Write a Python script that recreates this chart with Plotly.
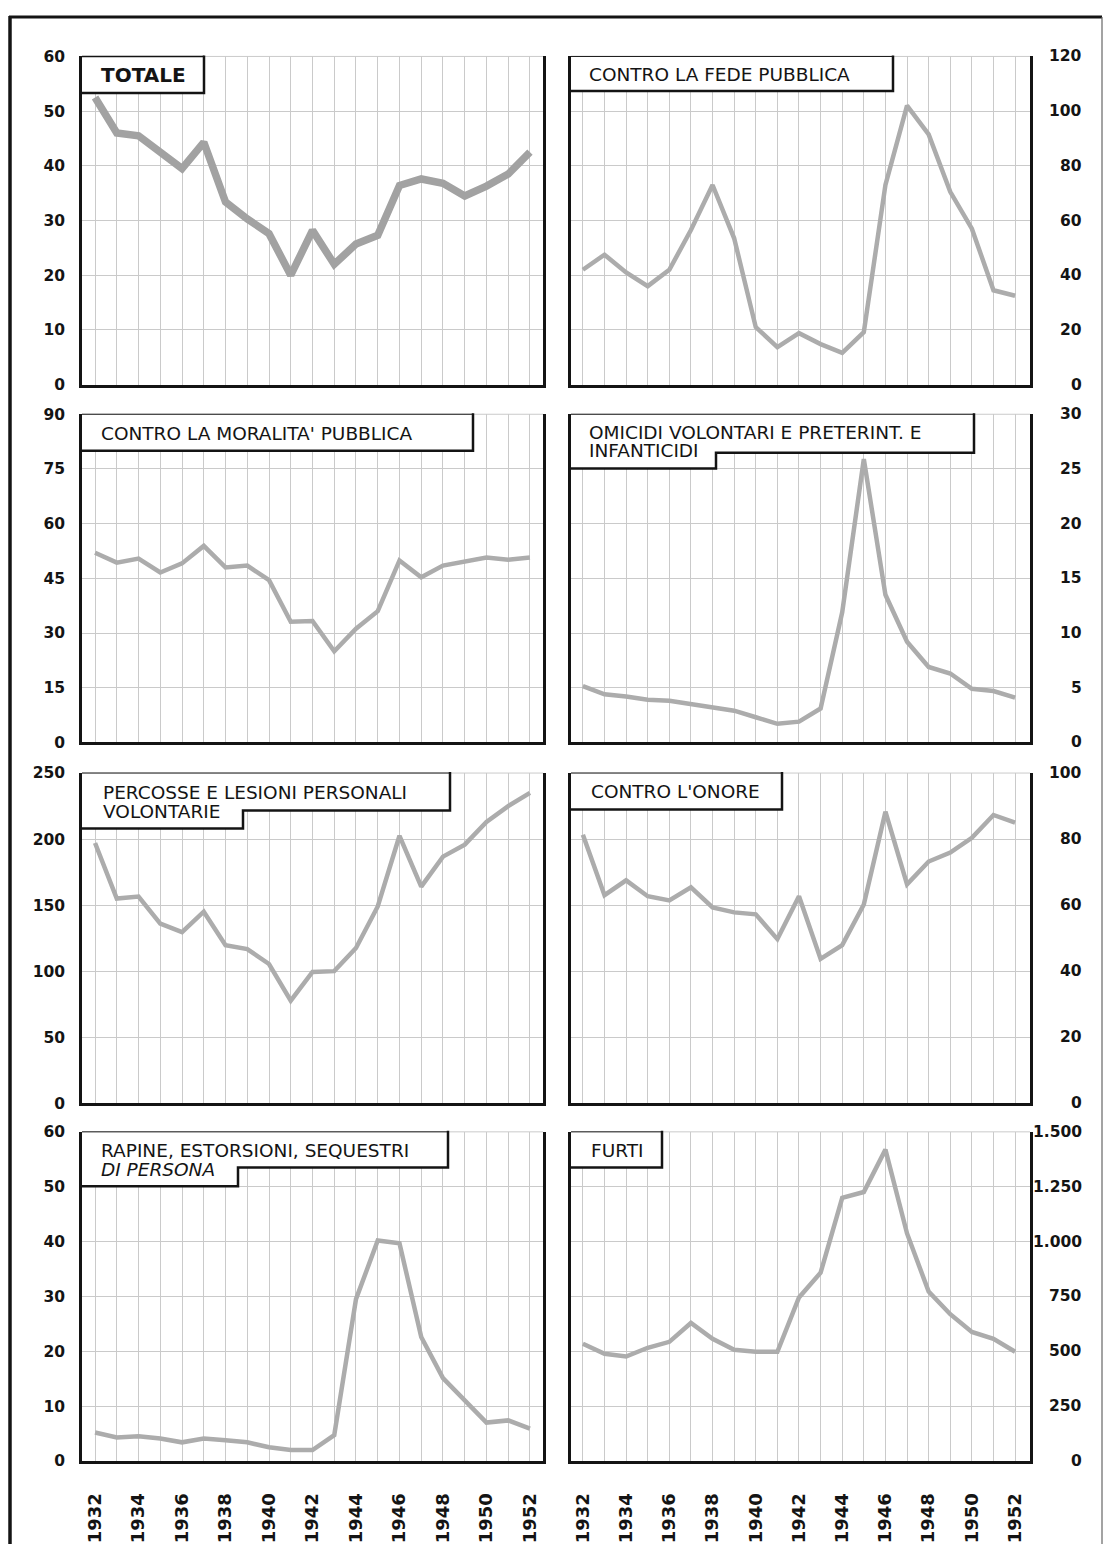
import plotly.graph_objects as go

# ---------------- data ----------------
years = list(range(1932, 1953))

totale = [52.5, 46, 45.5, 42.5, 39.5, 44.3, 33.4, 30.3, 27.6, 20, 28.2, 22, 25.7, 27.3, 36.4, 37.6, 36.8, 34.5, 36.3, 38.5, 42.5]
fede = [42, 47.5, 41, 36, 42, 56.5, 73, 53.5, 21, 13.7, 18.8, 14.8, 11.6, 19.2, 73, 102, 91.5, 70.5, 57, 34.5, 32.5]
moralita = [52, 49.3, 50.4, 46.6, 49.1, 53.9, 48, 48.5, 44.5, 33.1, 33.3, 25, 31.2, 36, 49.9, 45.3, 48.5, 49.6, 50.7, 50.1, 50.7]
omicidi = [5.15, 4.4, 4.2, 3.9, 3.8, 3.5, 3.3, 2.9, 2.3, 1.7, 1.9, 3.1, 11.9, 25.9, 13.5, 9.2, 6.9, 6.3, 4.9, 4.7, 4.1]
percosse = [197, 155, 156.5, 136, 129.5, 145, 119.7, 116.7, 105.4, 77.6, 99.4, 100, 117.5, 149, 202.5, 164, 186.7, 195.8, 213, 225, 235]
onore = [81.3, 63, 67.5, 62.7, 61.4, 65.4, 59.3, 57.8, 57.2, 49.7, 62.7, 43.7, 47.9, 60.2, 88.3, 66.3, 73.2, 75.9, 80.4, 87.3, 85]
rapine = [5.2, 4.3, 4.5, 4.1, 3.4, 4.1, 3.8, 3.4, 2.5, 2, 2, 4.7, 29.5, 40.2, 39.7, 22.6, 15.1, 11, 7, 7.4, 5.9]
furti = [534, 489, 476, 516, 543, 629, 557, 507, 498, 498, 745, 858, 1199, 1226, 1419, 1037, 772, 669, 588, 557, 498]

ticks_totale = [0, 10, 20, 30, 40, 50, 60]
ticks_fede = [0, 20, 40, 60, 80, 100, 120]
ticks_moralita = [0, 15, 30, 45, 60, 75, 90]
ticks_omicidi = [0, 5, 10, 15, 20, 25, 30]
ticks_percosse = [0, 50, 100, 150, 200, 250]
ticks_onore = [0, 20, 40, 60, 80, 100]
ticks_rapine = [0, 10, 20, 30, 40, 50, 60]
ticks_furti = [0, 250, 500, 750, 1000, 1250, 1500]
ticktext_furti = ["0", "250", "500", "750", "1.000", "1.250", "1.500"]

title_lines = {
    1: ["TOTALE"],
    2: ["CONTRO LA FEDE PUBBLICA"],
    3: ["CONTRO LA MORALITA' PUBBLICA"],
    4: ["OMICIDI VOLONTARI E PRETERINT. E", "INFANTICIDI"],
    5: ["PERCOSSE E LESIONI PERSONALI", "VOLONTARIE"],
    6: ["CONTRO L'ONORE"],
    7: ["RAPINE, ESTORSIONI, SEQUESTRI", "DI PERSONA"],
    8: ["FURTI"],
}

# ---------------- layout helpers ----------------
W, H = 1105, 1555
def px(x): return x / W
def py(y): return 1 - y / H

col_px = [(82, 543), (571, 1030)]
row_px = [(48, 380), (410, 742), (773, 1107), (1136, 1469)]
xranges = [[1931.4, 1952.6], [1931.45, 1952.69]]

GRID = "#cacaca"
LINE = "#acacac"
INK = "#141414"
FONT = "DejaVu Sans"

panels = [
    dict(s=totale, t=ticks_totale, tt=None, col=0, row=0, w=7.5, c="#a2a2a2"),
    dict(s=fede, t=ticks_fede, tt=None, col=1, row=0, w=4.5, c=LINE),
    dict(s=moralita, t=ticks_moralita, tt=None, col=0, row=1, w=4.5, c=LINE),
    dict(s=omicidi, t=ticks_omicidi, tt=None, col=1, row=1, w=4.5, c=LINE),
    dict(s=percosse, t=ticks_percosse, tt=None, col=0, row=2, w=4.5, c=LINE),
    dict(s=onore, t=ticks_onore, tt=None, col=1, row=2, w=4.5, c=LINE),
    dict(s=rapine, t=ticks_rapine, tt=None, col=0, row=3, w=4.5, c=LINE),
    dict(s=furti, t=ticks_furti, tt=ticktext_furti, col=1, row=3, w=4.5, c=LINE),
]

# title boxes: x0, top, x1, bottom1, step_x, bottom2 (pixels)
boxes = {
    1: (82, 48, 204, 85, None, None),
    2: (571, 48, 893, 83, None, None),
    3: (82, 410, 473, 447, None, None),
    4: (571, 410, 974, 449, 716, 465),
    5: (82, 773, 450, 811, 243, 829),
    6: (571, 773, 782, 810, None, None),
    7: (82, 1136, 448, 1172, 238, 1191),
    8: (571, 1136, 662, 1172, None, None),
}
text_pos = {
    1: (99, 67), 2: (587, 66), 3: (99, 429), 4: (587, 428),
    5: (101, 793), 6: (589, 792), 7: (99, 1155), 8: (589, 1155),
}

fig = go.Figure()
layout = dict(width=W, height=H, margin=dict(l=0, r=0, t=0, b=0),
              paper_bgcolor="white", plot_bgcolor="white", showlegend=False)
shapes, annotations = [], []

for k, p in enumerate(panels, start=1):
    c0, c1 = col_px[p["col"]]
    r0, r1 = row_px[p["row"]]
    xn = "xaxis" if k == 1 else f"xaxis{k}"
    yn = "yaxis" if k == 1 else f"yaxis{k}"
    xr = "x" if k == 1 else f"x{k}"
    yr = "y" if k == 1 else f"y{k}"
    ymax = p["t"][-1]
    bottom = p["row"] == 3
    layout[xn] = dict(
        domain=[px(c0), px(c1)], range=xranges[p["col"]], anchor=yr,
        tickmode="array", tickvals=years,
        ticktext=[str(y) if y % 2 == 0 else "" for y in years],
        showticklabels=bottom, tickangle=-90, ticks="",
        tickfont=dict(family=FONT, size=18, color=INK, weight="bold"),
        ticklabelstandoff=22,
        showgrid=True, gridcolor=GRID, gridwidth=1,
        showline=True, linecolor=INK, linewidth=3, mirror=False,
        zeroline=False, fixedrange=True,
    )
    left = p["col"] == 0
    ytext = p["tt"] if p["tt"] else [str(v) for v in p["t"]]
    layout[yn] = dict(
        domain=[py(r1), py(r0)], range=[0, ymax], anchor=xr,
        tickmode="array", tickvals=p["t"], ticktext=ytext,
        showticklabels=left, side="left", ticks="",
        tickfont=dict(family=FONT, size=15.5, color=INK, weight="bold"),
        ticklabelstandoff=11,
        showgrid=True, gridcolor=GRID, gridwidth=1,
        showline=True, linecolor=INK, linewidth=2.5, mirror=True,
        zeroline=False, fixedrange=True,
    )
    shapes.append(dict(type="line", xref="paper", yref="paper",
                       x0=px(c0), x1=px(c1), y0=py(r0), y1=py(r0),
                       line=dict(color=GRID, width=1), layer="below"))
    if not left:
        for v, t in zip(p["t"], ytext):
            annotations.append(dict(x=px(1084), xref="paper", y=v, yref=yr,
                                    text=t, showarrow=False, xanchor="right",
                                    yanchor="middle",
                                    font=dict(family=FONT, size=15.5, color=INK, weight="bold")))
    fig.add_trace(go.Scatter(x=years, y=p["s"], mode="lines", xaxis=xr, yaxis=yr,
                             line=dict(color=p["c"], width=p["w"]),
                             hoverinfo="skip"))

    x0, top, x1, b1, xs, b2 = boxes[k]
    if xs is None:
        fillp = f"M {px(x0)},{py(top)} L {px(x1)},{py(top)} L {px(x1)},{py(b1)} L {px(x0)},{py(b1)} Z"
        edge = f"M {px(x1)},{py(top - 1)} L {px(x1)},{py(b1)} L {px(x0)},{py(b1)}"
    else:
        fillp = (f"M {px(x0)},{py(top)} L {px(x1)},{py(top)} L {px(x1)},{py(b1)} "
                 f"L {px(xs)},{py(b1)} L {px(xs)},{py(b2)} L {px(x0)},{py(b2)} Z")
        edge = (f"M {px(x1)},{py(top - 1)} L {px(x1)},{py(b1)} L {px(xs)},{py(b1)} "
                f"L {px(xs)},{py(b2)} L {px(x0)},{py(b2)}")
    shapes.append(dict(type="path", path=fillp, xref="paper", yref="paper",
                       fillcolor="white", line=dict(width=0), layer="above"))
    shapes.append(dict(type="path", path=edge, xref="paper", yref="paper",
                       line=dict(color=INK, width=2.5), layer="above"))
    shapes.append(dict(type="line", xref="paper", yref="paper",
                       x0=px(x0), x1=px(x1), y0=py(top), y1=py(top),
                       line=dict(color=INK, width=1.5 if k == 1 else 1), layer="above"))
    tx, ty = text_pos[k]
    for i, line in enumerate(title_lines[k]):
        f = dict(family=FONT, size=18.5, color=INK)
        if k == 1:
            f = dict(family=FONT, size=20, color=INK, weight="bold")
        if k == 7 and i == 1:
            f["style"] = "italic"
        annotations.append(dict(x=px(tx), y=py(ty + 19 * i), xref="paper", yref="paper",
                                text=line, showarrow=False, xanchor="left",
                                yanchor="middle", font=f))

# page frame
shapes.append(dict(type="line", xref="paper", yref="paper", x0=px(10), x1=px(10),
                   y0=py(7), y1=py(1553), line=dict(color=INK, width=3.5)))
shapes.append(dict(type="line", xref="paper", yref="paper", x0=px(9), x1=px(1102),
                   y0=py(8), y1=py(8), line=dict(color=INK, width=3)))
shapes.append(dict(type="line", xref="paper", yref="paper", x0=px(1102), x1=px(1102),
                   y0=py(8), y1=py(1553), line=dict(color="#666666", width=1.2)))

layout["shapes"] = shapes
layout["annotations"] = annotations
fig.update_layout(**layout)

fig.write_html("out.html", config=dict(displayModeBar=False),
               post_script="document.body.style.margin='0';document.body.style.overflow='hidden';")
